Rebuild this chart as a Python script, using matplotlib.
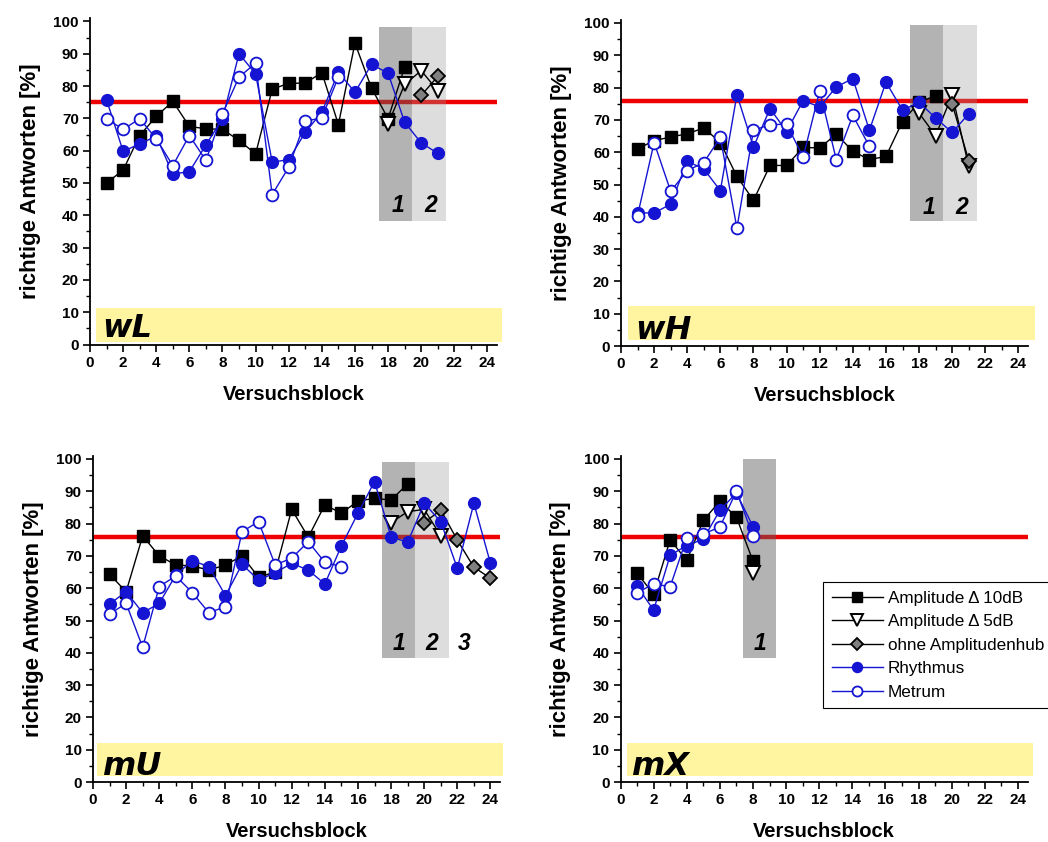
import matplotlib
matplotlib.use("Agg")
import matplotlib.pyplot as plt
from matplotlib.lines import Line2D
from matplotlib.patches import Rectangle
from matplotlib.ticker import MultipleLocator

plt.rcParams['font.family'] = ['Liberation Sans', 'DejaVu Sans']

# ---------------- data ----------------
# wL
wL_amp10_x = list(range(1, 20))
wL_amp10 = [50, 54, 64.7, 70.6, 75.3, 67.5, 66.8, 66.6, 63.2, 59, 79, 80.9, 80.9, 84.2, 68.1, 93.3, 79.4, 69.9, 85.9]
wL_amp5_x = [18, 19, 20, 21]
wL_amp5 = [68.3, 80.5, 84.8, 78.6]
wL_ohne_x = [20, 21]
wL_ohne = [77.1, 83]
wL_rhy_x = list(range(1, 22))
wL_rhy = [75.8, 59.8, 62.1, 64.5, 52.8, 53.5, 61.8, 69.9, 90, 83.8, 56.5, 57.2, 65.7, 71.9, 84.3, 78.1, 86.7, 84, 68.8, 62.4, 59.2]
wL_met_x = list(range(1, 16))
wL_met = [69.9, 66.6, 69.9, 63.7, 55.4, 64.7, 57, 71.4, 82.8, 87.1, 46.4, 54.9, 69.1, 70.2, 82.8]

# wH
wH_amp10_x = list(range(1, 20))
wH_amp10 = [61.0, 63.6, 64.7, 65.7, 67.5, 63.0, 52.5, 45.1, 55.9, 55.9, 61.5, 61.3, 65.6, 60.3, 57.7, 58.7, 69.5, 75.5, 77.5]
wH_amp5_x = [18, 19, 20, 21]
wH_amp5 = [72.1, 65.1, 77.8, 55.6]
wH_ohne_x = [20, 21]
wH_ohne = [74.9, 57.4]
wH_rhy_x = list(range(1, 22))
wH_rhy = [41.2, 41.2, 43.9, 57.2, 54.8, 48.1, 77.8, 61.6, 73.5, 66.4, 76.0, 74.0, 80.2, 82.8, 66.8, 81.7, 73.0, 75.4, 70.6, 66.1, 71.9]
wH_met_x = list(range(1, 16))
wH_met = [40.4, 63.0, 47.9, 54.3, 56.8, 64.6, 36.5, 66.8, 68.5, 68.7, 58.5, 79.0, 57.7, 71.4, 61.8]

# mU
mU_amp10_x = list(range(1, 20))
mU_amp10 = [64.3, 58.9, 76.2, 70.0, 67.2, 66.9, 65.6, 67.2, 70.0, 63.4, 65.0, 84.4, 75.8, 85.8, 83.2, 87.0, 87.8, 87.3, 92.3]
mU_amp5_x = [18, 19, 20, 21]
mU_amp5 = [80.3, 83.7, 84.4, 76.2]
mU_ohne_x = [20, 21, 22, 23, 24]
mU_ohne = [80.3, 84.2, 74.9, 66.5, 63.1]
mU_rhy_x = list(range(1, 25))
mU_rhy = [55.1, 58.9, 52.4, 55.3, 64.1, 68.5, 66.7, 57.7, 67.4, 62.5, 64.8, 67.7, 65.6, 61.3, 73.1, 83.2, 93.0, 75.9, 74.2, 86.3, 80.6, 66.2, 86.3, 67.7]
mU_met_x = list(range(1, 16))
mU_met = [52.0, 55.3, 41.7, 60.5, 63.8, 58.6, 52.4, 54.3, 77.5, 80.6, 67.2, 69.3, 74.4, 68.0, 66.7]

# mX
mX_amp10_x = list(range(1, 9))
mX_amp10 = [64.6, 58.2, 75.0, 68.6, 81.0, 86.9, 82.0, 68.4]
mX_amp5_x = [8]
mX_amp5 = [64.6]
mX_ohne_x = []
mX_ohne = []
mX_rhy_x = list(range(1, 9))
mX_rhy = [60.7, 53.2, 70.2, 73.2, 75.2, 84.1, 89.5, 79.1]
mX_met_x = list(range(1, 9))
mX_met = [58.6, 61.3, 60.5, 75.5, 76.8, 78.9, 90.1, 76.2]

panel_names = ['wL', 'wH', 'mU', 'mX']
threshold = [75.2, 75.7, 75.9, 75.8]
phase_labels = [['1', '2'], ['1', '2'], ['1', '2', '3'], ['1']]

series_labels = ['Amplitude \u0394 10dB', 'Amplitude \u0394 5dB', 'ohne Amplitudenhub', 'Rhythmus', 'Metrum']

data = {
    'wL': [(wL_amp10_x, wL_amp10), (wL_amp5_x, wL_amp5), (wL_ohne_x, wL_ohne), (wL_rhy_x, wL_rhy), (wL_met_x, wL_met)],
    'wH': [(wH_amp10_x, wH_amp10), (wH_amp5_x, wH_amp5), (wH_ohne_x, wH_ohne), (wH_rhy_x, wH_rhy), (wH_met_x, wH_met)],
    'mU': [(mU_amp10_x, mU_amp10), (mU_amp5_x, mU_amp5), (mU_ohne_x, mU_ohne), (mU_rhy_x, mU_rhy), (mU_met_x, mU_met)],
    'mX': [(mX_amp10_x, mX_amp10), (mX_amp5_x, mX_amp5), (mX_ohne_x, mX_ohne), (mX_rhy_x, mX_rhy), (mX_met_x, mX_met)],
}

# ---------------- styles / layout ----------------
W, H = 1048, 842
BLUE = '#1414d2'
styles = [
    dict(color='black', marker='s', mfc='black', mec='black', ms=8.5),
    dict(color='black', marker='v', mfc='white', mec='black', ms=10.5, mew=1.4),
    dict(color='black', marker='D', mfc='#808080', mec='black', ms=7.5, mew=1.3),
    dict(color=BLUE, marker='o', mfc=BLUE, mec=BLUE, ms=8.5),
    dict(color=BLUE, marker='o', mfc='white', mec=BLUE, ms=8.5, mew=1.3),
]

px_per_x = 16.56
px_per_y = 3.23
XMAX, YMAX = 24.6, 101
axes_px = {'wL': (90, 344.5), 'wH': (621, 346), 'mU': (93, 782), 'mX': (620.5, 782)}
yellow = {'wL': (0.36, 24.9, 0.9, 11.2), 'wH': (0.44, 25.0, 2.0, 12.3),
          'mU': (0.26, 24.75, 1.9, 12.2), 'mX': (0.37, 24.9, 1.9, 12.2)}
name_x = {'wL': 0.75, 'wH': 0.85, 'mU': 0.55, 'mX': 0.62}
DARK = ('#5e5e5e', 0.47)
LIGHT = ('#9a9a9a', 0.33)
shade = {'wL': [(17.45, 19.45, DARK), (19.45, 21.5, LIGHT)],
         'wH': [(17.45, 19.45, DARK), (19.45, 21.5, LIGHT)],
         'mU': [(17.45, 19.45, DARK), (19.45, 21.5, LIGHT)],
         'mX': [(7.4, 9.4, DARK)]}
shade_y = {'wL': (38.2, 98.2), 'wH': (38.6, 99.5), 'mU': (38.3, 99.0), 'mX': (38.3, 99.9)}
label_x = {'wL': [18.6, 20.55], 'wH': [18.6, 20.55], 'mU': [18.5, 20.45, 22.4], 'mX': [8.45]}

fig = plt.figure(figsize=(W / 100, H / 100), dpi=100)

for i, name in enumerate(panel_names):
    x0, y0 = axes_px[name]
    ax = fig.add_axes([x0 / W, (H - y0) / H, XMAX * px_per_x / W, YMAX * px_per_y / H])
    ax.set_xlim(0, XMAX)
    ax.set_ylim(0, YMAX)
    for s in ['top', 'right']:
        ax.spines[s].set_visible(False)
    for s in ['left', 'bottom']:
        ax.spines[s].set_linewidth(1.3)
    ax.xaxis.set_major_locator(MultipleLocator(2))
    ax.xaxis.set_minor_locator(MultipleLocator(1))
    ax.yaxis.set_major_locator(MultipleLocator(10))
    ax.yaxis.set_minor_locator(MultipleLocator(5))
    ax.tick_params(which='major', direction='out', length=5, width=1.2, labelsize=11, pad=3)
    ax.tick_params(which='minor', direction='out', length=3, width=1.0)
    for lab in ax.get_xticklabels() + ax.get_yticklabels():
        lab.set_fontweight('bold')
    ax.set_xlabel('Versuchsblock', fontsize=14.5, fontweight='bold', labelpad=11)
    ax.set_ylabel('richtige Antworten [%]', fontsize=16, fontweight='bold', labelpad=9)

    # yellow band
    yx0, yx1, yy0, yy1 = yellow[name]
    ax.add_patch(Rectangle((yx0, yy0), yx1 - yx0, yy1 - yy0, facecolor='#fff5a0',
                           edgecolor='none', zorder=0.5, clip_on=False))
    ax.text(name_x[name], 2.2, name, fontsize=23, fontweight='heavy', fontstyle='italic',
            family='DejaVu Sans', ha='left', va='baseline', zorder=4)

    # red threshold
    ax.axhline(threshold[i], color='#ee0000', lw=3.2, zorder=1)

    # shaded phases
    sy0, sy1 = shade_y[name]
    for (a, b, (c, al)) in shade[name]:
        ax.add_patch(Rectangle((a, sy0), b - a, sy1 - sy0, facecolor=c, alpha=al,
                               edgecolor='none', zorder=1.5))
    for lx, lt in zip(label_x[name], phase_labels[i]):
        ax.text(lx, 41.0, lt, fontsize=16.5, fontweight='bold', fontstyle='italic',
                ha='center', va='baseline', zorder=4)

    for (xs, ys), st in zip(data[name], styles):
        if len(xs):
            ax.plot(xs, ys, lw=1.0, zorder=3, **st)

handles = [Line2D([], [], lw=1.0, **st) for st in styles]
for h in handles:
    h.set_markersize(h.get_markersize() * 0.85)
leg = fig.legend(handles, series_labels, loc='upper left',
                 bbox_to_anchor=(823 / W, 1 - 582 / H), borderaxespad=0, fontsize=12.3,
                 frameon=True, fancybox=False, edgecolor='black', framealpha=1,
                 handlelength=3.0, labelspacing=0.5, borderpad=0.5, handletextpad=0.3)
leg.get_frame().set_linewidth(0.8)

fig.savefig('out.png', dpi=100)
